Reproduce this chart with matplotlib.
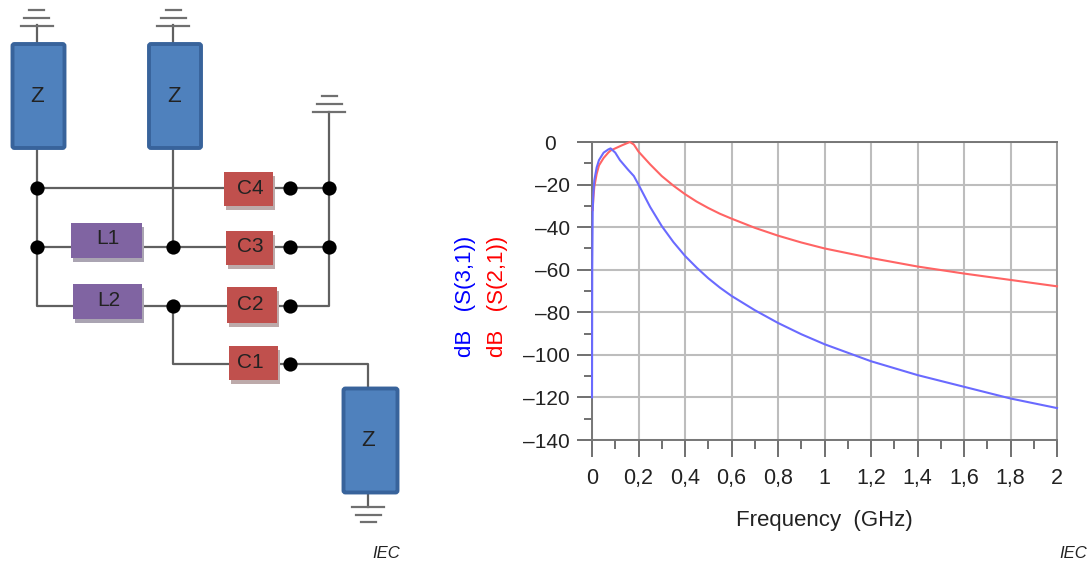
import matplotlib
matplotlib.use('Agg')
import matplotlib.pyplot as plt
from matplotlib.patches import Rectangle, FancyBboxPatch

plt.rcParams['font.family'] = ['Liberation Sans', 'DejaVu Sans']

# chart data
freq = [0, 0.001, 0.003, 0.006, 0.01, 0.02, 0.03, 0.05, 0.07, 0.08, 0.1, 0.12, 0.155, 0.18, 0.2, 0.25,
        0.3, 0.35, 0.4, 0.45, 0.5, 0.55, 0.6, 0.7, 0.8, 0.9, 1.0, 1.2, 1.4, 1.6, 1.8, 2.0]
s31 = [-120, -60, -32, -24, -18, -12, -8.5, -5, -3.5, -3, -5, -8.5, -13, -16, -20, -30.5,
       -39.5, -47, -53.5, -59, -64, -68.4, -72.3, -79, -85, -90.3, -95, -103, -109.5, -115, -120.5, -125]
freq21 = [0.003, 0.006, 0.01, 0.02, 0.03, 0.05, 0.07, 0.08, 0.1, 0.13, 0.163, 0.18, 0.2, 0.25,
          0.3, 0.35, 0.4, 0.45, 0.5, 0.55, 0.6, 0.7, 0.8, 0.9, 1.0, 1.2, 1.4, 1.6, 1.8, 2.0]
s21 = [-32, -26, -21, -15, -11, -7.5, -5, -4, -3, -1.5, 0, -1.2, -4.5, -10.5,
       -16, -20.5, -24.5, -28, -31, -33.7, -36, -40.3, -44, -47.2, -50, -54.5, -58.5, -61.8, -64.8, -67.8]
xticks = [0, 0.2, 0.4, 0.6, 0.8, 1, 1.2, 1.4, 1.6, 1.8, 2]
xlabels = ['0', '0,2', '0,4', '0,6', '0,8', '1', '1,2', '1,4', '1,6', '1,8', '2']
xminor = [0.1, 0.3, 0.5, 0.7, 0.9, 1.1, 1.3, 1.5, 1.7, 1.9]
yticks = [0, -20, -40, -60, -80, -100, -120, -140]
ylabels = ['0', '–20', '–40', '–60', '–80', '–100', '–120', '–140']
yminor = [-10, -30, -50, -70, -90, -110, -130]

# schematic parts, in pixels of the picture
z_boxes = [(12.5, 44, 52, 104), (149, 44, 52, 104), (343.5, 388.5, 54, 104)]
z_text = [(37, 97), (174, 97), (368, 440)]
# x, y, width, height, label, label x, label y
l_boxes = [(71, 223, 71, 35, 'L1', 108, 239), (73, 284, 69, 35, 'L2', 109, 300)]
c_boxes = [(224, 172, 49, 34, 'C4', 250, 189), (226, 231, 47, 34, 'C3', 250, 247),
           (227, 287, 50, 36, 'C2', 250, 304), (229, 346, 49, 34, 'C1', 250, 363)]
wires = [
    [(36.5, 25), (36.5, 188), (224, 188)],
    [(36.5, 188), (36.5, 305.5), (73, 305.5)],
    [(36.5, 247), (71, 247)],
    [(173, 25), (173, 247)],
    [(142, 247), (226, 247)],
    [(142, 305.5), (227, 305.5)],
    [(173, 305.5), (173, 364), (229, 364)],
    [(273, 188), (329, 188)],
    [(273, 247), (329, 247)],
    [(277, 305.5), (329, 305.5), (329, 112)],
    [(278, 364), (368, 364), (368, 388)],
    [(368, 494), (368, 507)],
]
dots = [(36.5, 188), (36.5, 247), (173, 247), (173, 305.5), (290, 188), (329, 188), (290, 247), (329, 247),
        (290, 305.5), (290, 364)]
grounds = [(36.5, 25.5, -1), (173, 25.5, -1), (329, 111.5, -1), (368, 507, 1)]

fig = plt.figure(figsize=(10.89, 5.63), dpi=100)

# overlay in picture pixels for the schematic
bg = fig.add_axes([0, 0, 1, 1])
bg.set_xlim(0, 1089)
bg.set_ylim(563, 0)
bg.axis('off')

for w in wires:
    bg.plot([p[0] for p in w], [p[1] for p in w], color='#606060', lw=1.6, zorder=1)

for gx, gy, d in grounds:
    for k, hw in enumerate([16, 12.5, 7.5]):
        bg.plot([gx - hw, gx + hw], [gy + d * k * 7.6] * 2, color='#707070', lw=1.6, zorder=1)

for (bx, by, w, h), (tx, ty) in zip(z_boxes, z_text):
    bg.add_patch(FancyBboxPatch((bx, by), w, h, boxstyle='round,pad=0,rounding_size=2', fc='#4f81bd',
                                ec='#38639b', lw=2.8, zorder=3))
    bg.text(tx, ty, 'Z', fontsize=16, color='#222222', ha='center', va='center', zorder=4)

for bx, by, w, h, label, tx, ty in l_boxes:
    bg.add_patch(Rectangle((bx + 2, by + 4), w, h, fc='#aaa4b2', ec='none', zorder=2))
    bg.add_patch(Rectangle((bx, by), w, h, fc='#8064a2', ec='none', zorder=3))
    bg.text(tx, ty, label, fontsize=15, color='#222222', ha='center', va='center', zorder=4)

for bx, by, w, h, label, tx, ty in c_boxes:
    bg.add_patch(Rectangle((bx + 2, by + 4), w, h, fc='#bdaaaa', ec='none', zorder=2))
    bg.add_patch(Rectangle((bx, by), w, h, fc='#c0504d', ec='none', zorder=3))
    bg.text(tx, ty, label, fontsize=15, color='#222222', ha='center', va='center', zorder=4)

bg.scatter([p[0] for p in dots], [p[1] for p in dots], s=105, color='black', linewidths=0, zorder=5)

bg.text(386.5, 553, 'IEC', fontsize=12, style='italic', color='#222222', ha='center', va='center')
bg.text(1073, 554, 'IEC', fontsize=12, style='italic', color='#222222', ha='center', va='center')

# the plot itself
ax = fig.add_axes([592 / 1089, 1 - 440 / 563, 465 / 1089, 298 / 563])
ax.patch.set_alpha(0)
ax.plot(freq21, s21, color='#ff6464', lw=1.5, zorder=3, clip_on=False)
ax.plot(freq, s31, color='#6a6aff', lw=1.5, zorder=3, clip_on=False)
ax.set_xlim(0, 2)
ax.set_ylim(-140, 0)
ax.set_xticks(xticks)
ax.set_xticklabels(xlabels)
ax.set_xticks(xminor, minor=True)
ax.set_yticks(yticks)
ax.set_yticklabels(ylabels)
ax.set_yticks(yminor, minor=True)
ax.grid(True, which='major', color='#bdbdbd', lw=1.5)
ax.set_axisbelow(True)
for s in ['top', 'left', 'bottom']:
    ax.spines[s].set_color('#777777')
    ax.spines[s].set_linewidth(1.4)
ax.spines['right'].set_color('#9a9a9a')
ax.spines['right'].set_linewidth(1.4)
ax.tick_params(axis='y', which='major', length=10.8, width=1.4, color='#707070', labelsize=15,
               labelcolor='#222222', pad=5)
ax.tick_params(axis='y', which='minor', length=6, width=1.4, color='#707070')
ax.tick_params(axis='x', which='major', length=12.2, width=1.4, color='#707070', labelsize=15.5,
               labelcolor='#222222', pad=8)
ax.tick_params(axis='x', which='minor', length=6.5, width=1.4, color='#707070')
ax.yaxis.get_major_ticks()[0].set_pad(15)
ax.set_xlabel('Frequency  (GHz)', fontsize=16, color='#222222', labelpad=15)

bg.text(466, 357, 'dB   (S(3,1))', color='#0000ff', fontsize=16, rotation=90, ha='center', va='bottom')
bg.text(497, 357, 'dB   (S(2,1))', color='#ff0000', fontsize=16, rotation=90, ha='center', va='bottom')

fig.savefig('out.png', dpi=100)
